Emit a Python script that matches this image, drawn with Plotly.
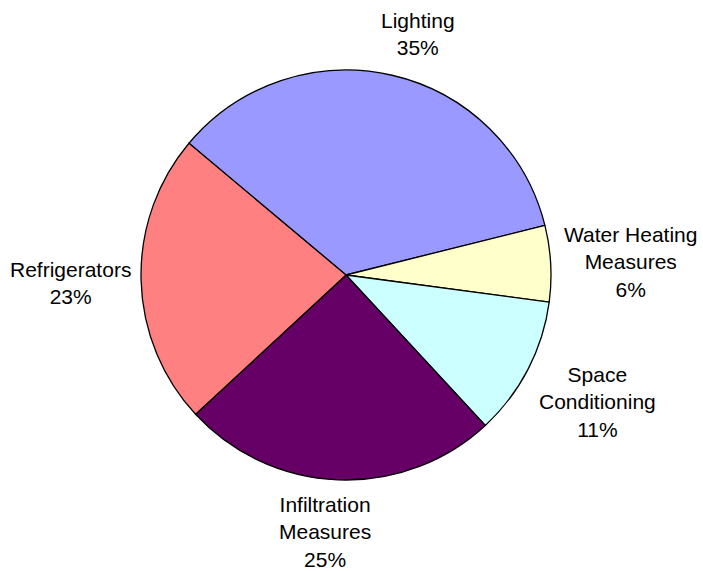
import plotly.graph_objects as go

labels = ["Lighting", "Water Heating<br>Measures", "Space<br>Conditioning",
          "Infiltration<br>Measures", "Refrigerators"]
values = [35, 6, 11, 25, 23]
colors = ["#9999FF", "#FFFFCC", "#CCFFFF", "#660066", "#FF8080"]

# label centres (pixels from top-left of the 703x571 figure) - layout only
label_px = [(418, 34), (630, 262), (597, 402), (325, 532), (70, 283)]

W, H = 703, 571
total = sum(values)

fig = go.Figure(go.Pie(
    labels=labels,
    values=values,
    sort=False,
    direction="clockwise",
    rotation=310,
    marker=dict(colors=colors, line=dict(color="#000000", width=1.3)),
    textinfo="none",
    hoverinfo="label+percent",
    showlegend=False,
    domain=dict(x=[141 / W, 551 / W], y=[91 / H, 501 / H]),
))

for lab, val, (px, py) in zip(labels, values, label_px):
    fig.add_annotation(
        x=px / W, y=1 - py / H, xref="paper", yref="paper",
        xanchor="center", yanchor="middle", showarrow=False,
        text=f"{lab}<br>{round(val / total * 100)}%",
        font=dict(family="Liberation Sans, Arial, sans-serif", size=21, color="#000000"),
        align="center", borderpad=0,
    )

fig.update_layout(
    width=W, height=H,
    margin=dict(l=0, r=0, t=0, b=0),
    paper_bgcolor="#FFFFFF",
    plot_bgcolor="#FFFFFF",
)
fig.write_html("out.html")
